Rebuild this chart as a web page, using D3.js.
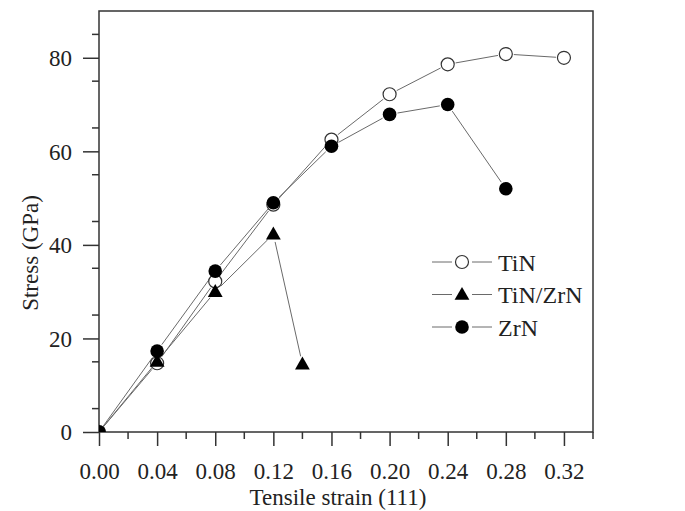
<!DOCTYPE html>
<html lang="en">
  <head>
    <meta charset="UTF-8" />
    <title>stress-strain</title>
    <script src="https://cdn.jsdelivr.net/npm/d3@7"></script>
    <style>
      body { margin: 0; background: #fff; }
      text { font-family: 'Liberation Serif', 'Times New Roman', serif; fill: #222; }
    </style>
  </head>
  <body>
    <svg width="685" height="511"></svg>
  </body>

  <script>
    // data
    var strainTiN = [0, 0.04, 0.08, 0.12, 0.16, 0.2, 0.24, 0.28, 0.32];
    var stressTiN = [0, 14.7, 32.2, 48.6, 62.5, 72.2, 78.6, 80.8, 80.0];
    var strainTiNZrN = [0, 0.04, 0.08, 0.12, 0.14];
    var stressTiNZrN = [0, 15.1, 30.0, 42.3, 14.5];
    var strainZrN = [0, 0.04, 0.08, 0.12, 0.16, 0.2, 0.24, 0.28];
    var stressZrN = [0, 17.3, 34.4, 49.0, 61.1, 67.9, 70.0, 52.0];
    var seriesNames = ['TiN', 'TiN/ZrN', 'ZrN'];
    var xTicks = [0, 0.04, 0.08, 0.12, 0.16, 0.2, 0.24, 0.28, 0.32];
    var yTicks = [0, 20, 40, 60, 80];

    var svg = d3.select('svg');
    var pLeft = 99, pTop = 11, pRight = 593, pBottom = 432;

    var x = d3.scaleLinear().domain([0, 0.34]).range([pLeft, pRight]);
    var y = d3.scaleLinear().domain([0, 90]).range([pBottom, pTop]);

    var series = [
      { name: seriesNames[0], xs: strainTiN, ys: stressTiN, shape: 'open' },
      { name: seriesNames[1], xs: strainTiNZrN, ys: stressTiNZrN, shape: 'tri' },
      { name: seriesNames[2], xs: strainZrN, ys: stressZrN, shape: 'dot' }
    ];

    svg.append('defs').append('clipPath').attr('id', 'clip')
      .append('rect').attr('x', pLeft).attr('y', pTop)
      .attr('width', pRight - pLeft).attr('height', pBottom - pTop);

    // minor ticks
    var xMinor = d3.range(0.02, 0.3401, 0.04);
    var yMinor = d3.range(5, 90, 10);

    var axisX = d3.axisBottom(x).tickValues(xTicks).tickFormat(d3.format('.2f')).tickSize(14).tickSizeOuter(0);
    var axisY = d3.axisLeft(y).tickValues(yTicks).tickFormat(d3.format('d')).tickSize(16).tickSizeOuter(0);

    var gx = svg.append('g').attr('transform', 'translate(0,' + pBottom + ')').call(axisX);
    gx.selectAll('.minor').data(xMinor).enter().append('line')
      .attr('x1', function (d) { return x(d); }).attr('x2', function (d) { return x(d); })
      .attr('y1', 0).attr('y2', 7);
    var gy = svg.append('g').attr('transform', 'translate(' + pLeft + ',0)').call(axisY);
    gy.selectAll('.minor').data(yMinor).enter().append('line')
      .attr('y1', function (d) { return y(d); }).attr('y2', function (d) { return y(d); })
      .attr('x1', 0).attr('x2', -7);

    [gx, gy].forEach(function (g) {
      g.selectAll('.domain').remove();
      g.selectAll('line').attr('stroke', '#333').attr('stroke-width', 1.5);
      g.selectAll('text').attr('font-size', 23).attr('fill', '#222');
    });
    gx.selectAll('.tick text').attr('dy', '0.71em').attr('y', 31);
    gy.selectAll('.tick text').attr('x', -27).attr('dy', '0.34em');

    // frame
    svg.append('rect')
      .attr('x', pLeft).attr('y', pTop)
      .attr('width', pRight - pLeft).attr('height', pBottom - pTop)
      .attr('fill', 'none').attr('stroke', '#333').attr('stroke-width', 1.5);

    // axis titles
    svg.append('text').attr('x', 338).attr('y', 505)
      .attr('text-anchor', 'middle').attr('font-size', 23).text('Tensile strain (111)');
    svg.append('text').attr('transform', 'translate(38,253) rotate(-90)')
      .attr('text-anchor', 'middle').attr('font-size', 23).text('Stress (GPa)');

    // lines with small gaps near markers
    var gap = 8;
    var plot = svg.append('g').attr('clip-path', 'url(#clip)');
    series.forEach(function (s) {
      var pts = s.xs.map(function (v, i) { return [x(v), y(s.ys[i])]; });
      for (var i = 0; i < pts.length - 1; i++) {
        var a = pts[i], b = pts[i + 1];
        var dx = b[0] - a[0], dy = b[1] - a[1], len = Math.sqrt(dx * dx + dy * dy);
        if (len < gap * 2) continue;
        var ux = dx / len, uy = dy / len;
        var g0 = i === 0 ? 3 : gap;
        plot.append('line')
          .attr('x1', a[0] + ux * g0).attr('y1', a[1] + uy * g0)
          .attr('x2', b[0] - ux * gap).attr('y2', b[1] - uy * gap)
          .attr('stroke', '#6a6a6a').attr('stroke-width', 1);
      }
    });

    function drawMarker(g, shape, cx, cy) {
      if (shape === 'open') {
        g.append('circle').attr('cx', cx).attr('cy', cy).attr('r', 6.5)
          .attr('fill', '#fff').attr('stroke', '#333').attr('stroke-width', 1.2);
      } else if (shape === 'dot') {
        g.append('circle').attr('cx', cx).attr('cy', cy).attr('r', 6.8).attr('fill', '#000');
      } else {
        g.append('path').attr('transform', 'translate(' + cx + ',' + (cy + 1) + ')')
          .attr('d', d3.symbol().type(d3.symbolTriangle).size(95)()).attr('fill', '#000');
      }
    }

    series.forEach(function (s) {
      s.xs.forEach(function (v, i) { drawMarker(plot, s.shape, x(v), y(s.ys[i])); });
    });

    // legend
    var lg = svg.append('g');
    series.forEach(function (s, i) {
      var ly = 262 + i * 32.5;
      lg.append('line').attr('x1', 432).attr('x2', 452).attr('y1', ly).attr('y2', ly)
        .attr('stroke', '#6a6a6a').attr('stroke-width', 1);
      lg.append('line').attr('x1', 472).attr('x2', 492).attr('y1', ly).attr('y2', ly)
        .attr('stroke', '#6a6a6a').attr('stroke-width', 1);
      drawMarker(lg, s.shape, 462, ly);
      lg.append('text').attr('x', 498).attr('y', ly).attr('dy', '0.36em')
        .attr('font-size', 24).text(s.name);
    });
  </script>
</html>
